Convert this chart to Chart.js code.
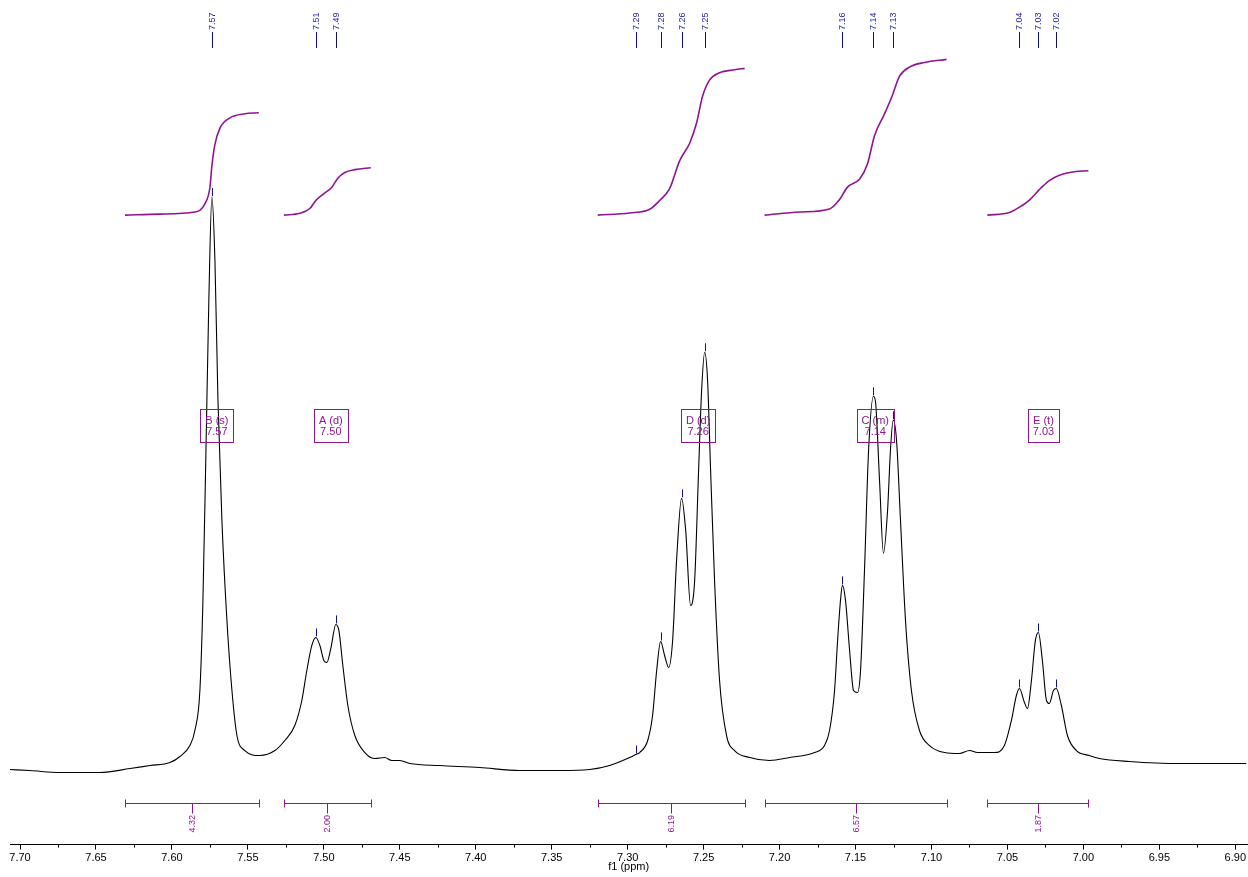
<!DOCTYPE html>
<html>
<head>
<meta charset="utf-8">
<script src="https://cdn.jsdelivr.net/npm/chart.js@4.4.0/dist/chart.umd.min.js"></script>
<style>
  html, body { margin: 0; padding: 0; background: #fff; }
  #wrap { position: relative; width: 1248px; height: 877px; }
</style>
</head>
<body>
<div id="wrap"><canvas id="c"></canvas></div>
<script>
// 1H NMR spectrum, aromatic region (ppm vs. intensity, arbitrary units)
const ppm = [
  7.7066, 7.6934, 7.6737, 7.6474, 7.6276, 7.6145, 7.6013, 7.5947, 7.5882, 7.5849,
  7.5816, 7.5796, 7.5776, 7.5757, 7.5737, 7.5717, 7.5697, 7.5671, 7.5638, 7.5605,
  7.5572, 7.5520, 7.5421, 7.5322, 7.5257, 7.5191, 7.5145, 7.5112, 7.5079, 7.5053,
  7.5026, 7.5000, 7.4980, 7.4954, 7.4921, 7.4901, 7.4875, 7.4842, 7.4796, 7.4730,
  7.4664, 7.4599, 7.4553, 7.4500, 7.4434, 7.4237, 7.3974, 7.3711, 7.3447, 7.3250,
  7.3118, 7.2987, 7.2947, 7.2921, 7.2868, 7.2836, 7.2809, 7.2783, 7.2757, 7.2730,
  7.2704, 7.2678, 7.2645, 7.2618, 7.2586, 7.2559, 7.2533, 7.2513, 7.2493, 7.2474,
  7.2454, 7.2428, 7.2395, 7.2349, 7.2296, 7.2197, 7.2066, 7.1934, 7.1770, 7.1704,
  7.1671, 7.1638, 7.1618, 7.1599, 7.1586, 7.1566, 7.1539, 7.1513, 7.1487, 7.1467,
  7.1441, 7.1414, 7.1382, 7.1368, 7.1342, 7.1316, 7.1289, 7.1270, 7.1252, 7.1230,
  7.1204, 7.1171, 7.1132, 7.1079, 7.1013, 7.0914, 7.0816, 7.0750, 7.0697, 7.0586,
  7.0520, 7.0474, 7.0441, 7.0421, 7.0388, 7.0368, 7.0342, 7.0316, 7.0296, 7.0270,
  7.0243, 7.0224, 7.0197, 7.0178, 7.0145, 7.0105, 7.0046, 6.9961, 6.9895, 6.9697,
  6.9368, 6.8928
];
const intensity = [
  0.2, 0, -0.4, -0.4, 0.4, 1.0, 1.6, 2.8, 5.0, 8.0,
  16, 34, 64, 94, 114.6, 102, 74, 50, 30, 16,
  7, 4, 3, 4, 6, 9, 14, 20, 25, 26.6,
  25, 22, 21.6, 24.4, 29.2, 28, 21, 13, 7, 3.6,
  2.4, 2.6, 2, 2, 1.4, 1, 0.6, 0, 0, 0.2,
  1, 2.6, 3.2, 3.6, 6, 11, 20, 25.8, 23, 20.6,
  26, 42, 54.4, 48, 33, 38, 60, 76, 83.6, 78,
  60, 38, 18, 7, 4, 2.6, 2, 2.6, 3.6, 5,
  8, 16, 26, 34, 37, 34, 24, 16, 15.6, 20,
  40, 64, 74.8, 73.6, 58, 43.4, 52, 64, 70, 66,
  50, 30, 16, 8, 5, 3.6, 3.4, 4, 3.6, 3.6,
  5, 10, 15, 16.4, 13.6, 12.4, 18, 26, 27.6, 22,
  14, 13.4, 16, 16.4, 13, 7, 4, 3, 2.4, 1.8,
  1.4, 1.4
];

// picked peaks
const peakShifts  = [7.5737, 7.5053, 7.4921, 7.2947, 7.2783, 7.2645, 7.2493, 7.1586, 7.1382, 7.1252, 7.0421, 7.0296, 7.0178];
const peakHeights = [114.6, 26.6, 29.2, 3.2, 25.8, 54.4, 83.6, 37, 74.8, 70, 16.4, 27.6, 16.4];

// multiplet annotations
const multipletNames  = ['B (s)', 'A (d)', 'D (d)', 'C (m)', 'E (t)'];
const multipletShifts = [7.5737, 7.4987, 7.2569, 7.1403, 7.0296];

// integration regions
const integralStarts = [7.6309, 7.5263, 7.3197, 7.2099, 7.0632];
const integralEnds   = [7.5428, 7.4691, 7.2230, 7.0901, 6.9967];
const integralValues = [4.32, 2.00, 6.19, 6.57, 1.87];

// running integral traces (ppm, fraction of the region total)
const integralCurvePpm = [
  [7.6309, 7.6079, 7.5849, 7.5783, 7.5750, 7.5737, 7.5717, 7.5684, 7.5618, 7.5520, 7.5428],
  [7.5263, 7.5158, 7.5092, 7.5053, 7.4993, 7.4947, 7.4908, 7.4862, 7.4796, 7.4691],
  [7.3197, 7.2987, 7.2855, 7.2789, 7.2724, 7.2658, 7.2592, 7.2546, 7.2507, 7.2461, 7.2395, 7.2296, 7.2230],
  [7.2099, 7.1868, 7.1671, 7.1605, 7.1553, 7.1474, 7.1421, 7.1375, 7.1309, 7.1257, 7.1211, 7.1145, 7.1046, 7.0901],
  [7.0632, 7.0487, 7.0421, 7.0355, 7.0289, 7.0224, 7.0158, 7.0059, 6.9967]
];
const integralCurveFraction = [
  [0, 0.01, 0.03, 0.11, 0.27, 0.48, 0.69, 0.85, 0.95, 0.99, 1],
  [0, 0.04, 0.14, 0.31, 0.47, 0.59, 0.78, 0.90, 0.96, 1],
  [0, 0.015, 0.04, 0.10, 0.18, 0.37, 0.49, 0.63, 0.81, 0.92, 0.97, 0.99, 1],
  [0, 0.02, 0.04, 0.10, 0.18, 0.23, 0.33, 0.51, 0.65, 0.77, 0.89, 0.95, 0.98, 1],
  [0, 0.06, 0.18, 0.34, 0.58, 0.78, 0.90, 0.98, 1]
];

// axis ticks
const axisTicks  = [7.70, 7.65, 7.60, 7.55, 7.50, 7.45, 7.40, 7.35, 7.30, 7.25, 7.20, 7.15, 7.10, 7.05, 7.00, 6.95, 6.90];
const minorTicks = [7.675, 7.625, 7.575, 7.525, 7.475, 7.425, 7.375, 7.325, 7.275, 7.225, 7.175, 7.125, 7.075, 7.025, 6.975, 6.925];

const FONT = "'Liberation Sans', Arial, Helvetica, sans-serif";
const PURPLE = '#8f1590';
const BLUE = '#1e1e9c';

const annotations = {
  id: 'annotations',
  afterDatasetsDraw(chart) {
    const ctx = chart.ctx;
    const xs = chart.scales.x, ys = chart.scales.y;
    const axisY = chart.chartArea.bottom;
    ctx.save();

    // minor ticks on the ppm axis
    ctx.strokeStyle = '#000';
    ctx.lineWidth = 1;
    minorTicks.forEach(v => {
      const px = Math.round(xs.getPixelForValue(v)) + 0.5;
      ctx.beginPath();
      ctx.moveTo(px, axisY);
      ctx.lineTo(px, axisY + 3);
      ctx.stroke();
    });

    // peak picking: labels along the top and markers above each maximum
    ctx.font = `9px ${FONT}`;
    ctx.fillStyle = BLUE;
    ctx.strokeStyle = '#10108f';
    peakShifts.forEach((p, i) => {
      const px = Math.round(xs.getPixelForValue(p)) + 0.5;
      ctx.beginPath();
      ctx.moveTo(px, 32);
      ctx.lineTo(px, 48);
      ctx.stroke();
      ctx.save();
      ctx.translate(px + 0.5, 30);
      ctx.rotate(-Math.PI / 2);
      ctx.textAlign = 'left';
      ctx.textBaseline = 'middle';
      ctx.fillText(p.toFixed(2), 0, 0);
      ctx.restore();
      const py = ys.getPixelForValue(peakHeights[i]);
      ctx.beginPath();
      ctx.moveTo(px, py - 9);
      ctx.lineTo(px, py - 1);
      ctx.stroke();
    });

    // multiplet boxes
    ctx.font = `11px ${FONT}`;
    ctx.strokeStyle = PURPLE;
    ctx.fillStyle = PURPLE;
    ctx.textAlign = 'center';
    ctx.textBaseline = 'middle';
    multipletNames.forEach((name, i) => {
      const cx = xs.getPixelForValue(multipletShifts[i]) + 5;
      const shift = multipletShifts[i].toFixed(2);
      const w = Math.round(Math.max(ctx.measureText(name).width, ctx.measureText(shift).width) + 10);
      ctx.strokeRect(Math.round(cx - w / 2) + 0.5, 409.5, w, 33);
      ctx.fillText(name, cx, 421);
      ctx.fillText(shift, cx, 432);
    });

    // integration ranges along the bottom
    ctx.font = `9px ${FONT}`;
    integralStarts.forEach((a, i) => {
      const b = integralEnds[i];
      const x1 = Math.round(xs.getPixelForValue(a)) + 0.5;
      const x2 = Math.round(xs.getPixelForValue(b)) + 0.5;
      const xm = Math.round(xs.getPixelForValue((a + b) / 2)) + 0.5;
      const y = 803.5;
      ctx.beginPath();
      ctx.moveTo(x1, y); ctx.lineTo(x2, y);
      ctx.moveTo(x1, y - 4); ctx.lineTo(x1, y + 4);
      ctx.moveTo(x2, y - 4); ctx.lineTo(x2, y + 4);
      ctx.moveTo(xm, y); ctx.lineTo(xm, y + 10);
      ctx.stroke();
      ctx.save();
      ctx.translate(xm + 0.5, 815);
      ctx.rotate(-Math.PI / 2);
      ctx.textAlign = 'right';
      ctx.textBaseline = 'middle';
      ctx.fillText(integralValues[i].toFixed(2), 0, 0);
      ctx.restore();
    });

    ctx.restore();
  }
};

const spectrum = {
  data: ppm.map((p, i) => ({ x: p, y: intensity[i] })),
  yAxisID: 'y',
  borderColor: '#000',
  borderWidth: 1.1,
  pointRadius: 0,
  cubicInterpolationMode: 'monotone',
  fill: false
};

const integralTraces = integralCurvePpm.map((xsArr, i) => ({
  data: xsArr.map((p, j) => ({ x: p, y: integralCurveFraction[i][j] * integralValues[i] })),
  yAxisID: 'yInt',
  borderColor: PURPLE,
  borderWidth: 1.6,
  pointRadius: 0,
  cubicInterpolationMode: 'monotone',
  fill: false
}));

new Chart(document.getElementById('c'), {
  type: 'line',
  data: { datasets: [...integralTraces, spectrum] },
  options: {
    responsive: true,
    maintainAspectRatio: false,
    animation: false,
    devicePixelRatio: 1,
    events: [],
    layout: { padding: { left: 10, right: 0, top: 0, bottom: 3 } },
    plugins: { legend: { display: false }, tooltip: { enabled: false } },
    scales: {
      x: {
        type: 'linear',
        reverse: true,
        min: 6.8921,
        max: 7.7066,
        afterBuildTicks: s => { s.ticks = axisTicks.map(v => ({ value: v })); },
        grid: { display: true, drawOnChartArea: false, drawTicks: true, tickLength: 5, color: '#000', lineWidth: 1 },
        border: { display: true, color: '#000', width: 1 },
        ticks: {
          autoSkip: false, maxRotation: 0, padding: 2, color: '#000',
          font: { family: FONT, size: 11 },
          callback: v => Number(v).toFixed(2)
        },
        title: {
          display: true, text: 'f1 (ppm)', color: '#000',
          font: { family: FONT, size: 11 },
          padding: { top: -6, bottom: 0 }
        }
      },
      y: { display: false, min: -14.8, max: 154 },
      yInt: { display: false, min: -26.54, max: 9.072 }
    }
  },
  plugins: [annotations]
});
</script>
</body>
</html>
